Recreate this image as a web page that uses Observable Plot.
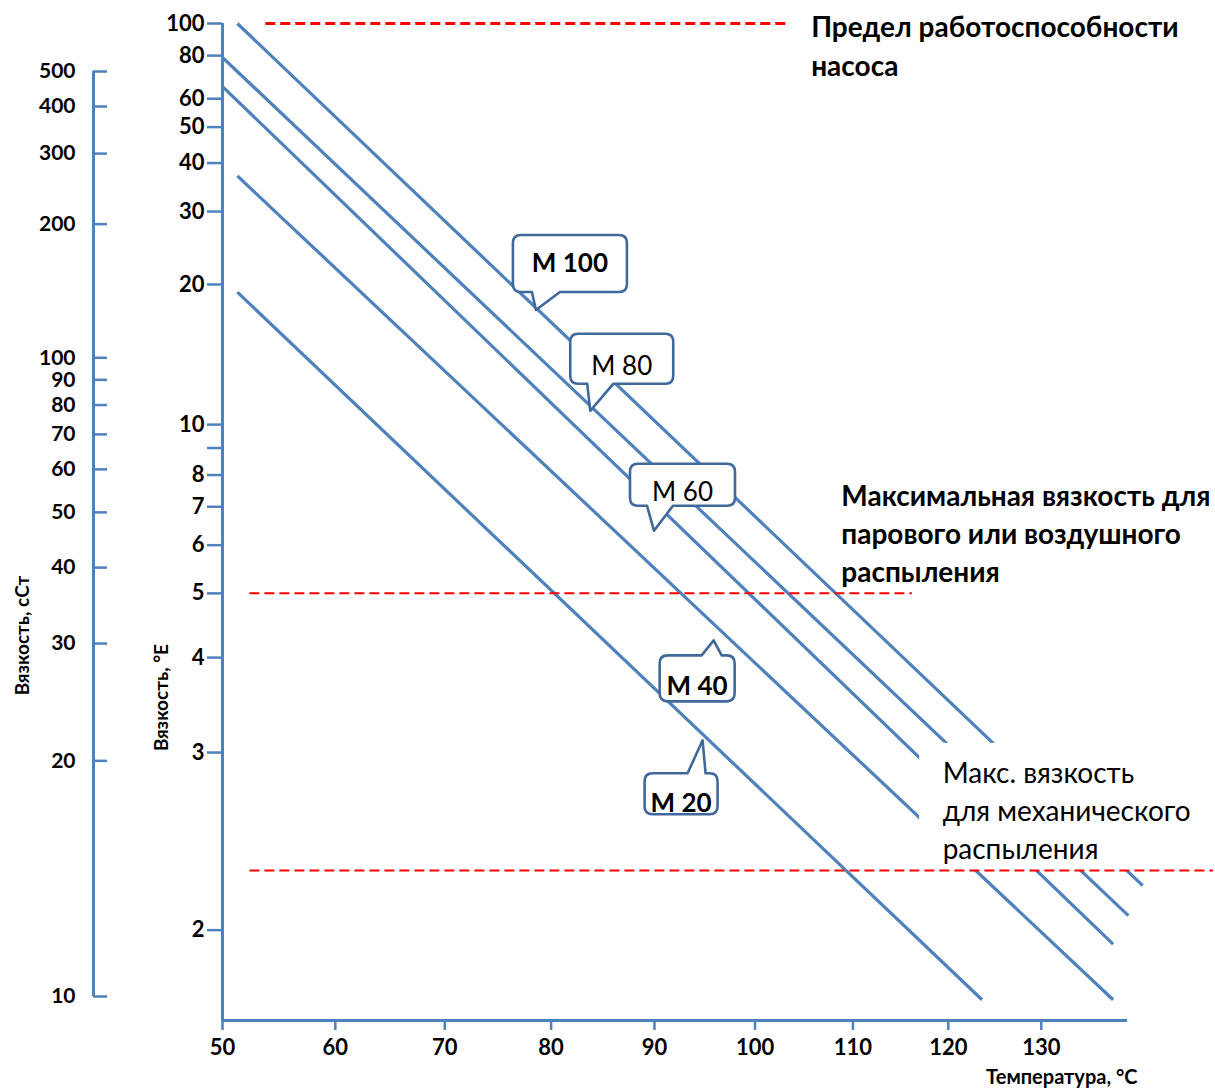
<!DOCTYPE html>
<html>
<head>
<meta charset="utf-8">
<script src="https://cdn.jsdelivr.net/npm/d3@7"></script>
<script src="https://cdn.jsdelivr.net/npm/@observablehq/plot@0.6"></script>
<style>
  html, body { margin: 0; padding: 0; background: #fff; }
  #chart { position: relative; width: 1215px; height: 1088px; overflow: hidden; }
  #chart svg { position: absolute; left: 0; top: 0; }
</style>
</head>
<body>
<div id="chart"></div>
<script>
// ---------------- DATA ----------------
// Fuel-oil grades: straight lines on a Walther chart, given by start/end (°C, °E)
const grades     = ["M 100", "M 80", "M 60", "M 40", "M 20"];
const startTemp  = [51.3, 50, 50, 51.3, 51.3];
const startVisc  = [100, 79, 65, 37, 19.2];
const endTemp    = [141.2, 139.6, 137.9, 137.9, 123.6];
const endVisc    = [2.18, 2.055, 1.95, 1.78, 1.78];

// Limit lines (°E) and their extent in °C
const limitVisc  = [100, 5, 2.25];
const limitFrom  = [53.8, 52.4, 52.4];
const limitTo    = [103.6, 116.2, 149.2];

// Limit notes
const noteTexts  = [
  "Предел работоспособности\nнасоса",
  "Максимальная вязкость для\nпарового или воздушного\nраспыления",
  "Макс. вязкость\nдля механического\nраспыления"
];
const noteTemp   = [105.7, 108.8, 119.4];
const noteVisc   = [100, 7.66, 2.913];

// Callouts: label and the point (°C, °E) the pointer touches
const calloutLabels = ["M 100", "M 80", "M 60", "M 40", "M 20"];
const calloutTemp   = [78.6, 83.8, 90.0, 95.9, 94.8];
const calloutVisc   = [17.44, 10.63, 6.34, 4.23, 3.10];

// Ticks
const tempTicks        = [50, 60, 70, 80, 90, 100, 110, 120, 130];
const englerTicks      = [2, 3, 4, 5, 6, 7, 8, 9, 10, 20, 30, 40, 50, 60, 80, 100];
const englerTickLabels = ["2", "3", "4", "5", "6", "7", "8", "", "10", "20", "30", "40", "50", "60", "80", "100"];
const cstTicks         = [10, 20, 30, 40, 50, 60, 70, 80, 90, 100, 200, 300, 400, 500];

// ---------------- LAYOUT / STYLE ----------------
const FONT = "Lato, 'Open Sans', 'Noto Sans', sans-serif";
const BLUE = "#4f81bd";
const BUBBLE = "#41689b";
const calloutLayout = [
  {dx: 34,    dy: -46.5, w: 114, h: 57, base: [-4, 24],  side: "bottom", weight: "bold",   size: 26, textDy: -1},
  {dx: 31.5,  dy: -52,   w: 103, h: 50, base: [-3, 23],  side: "bottom", weight: "normal", size: 26, textDy: 7},
  {dx: 28.5,  dy: -46,   w: 105, h: 42, base: [-7, 19],  side: "bottom", weight: "normal", size: 26, textDy: 7},
  {dx: -16.5, dy: 38,    w: 75,  h: 46, base: [-12, 8],  side: "top",    weight: "bold",   size: 26, textDy: 8},
  {dx: -21.5, dy: 53.5,  w: 73,  h: 41, base: [-15, 3],  side: "top",    weight: "bold",   size: 26, textDy: 9.5}
];
const noteLayout = [
  {dy: -14,  weight: "bold",   lineHeight: 1.39},
  {dy: -6,   weight: "bold",   lineHeight: 1.36},
  {dy: -7,   weight: "normal", lineHeight: 1.35}
];

// ---------------- TRANSFORMS (Walther chart) ----------------
const tx = t => Math.log10(t + 273.15);              // temperature axis: log of absolute temperature
const cstOfEngler = e => 7.31 * e - 6.31 / e;        // Ubbelohde conversion °E -> cSt
const walther = v => Math.log10(Math.log10(v + 0.7));
const gE = e => walther(cstOfEngler(e));

const lineData = grades.flatMap((g, i) => [
  {grade: g, T: startTemp[i], E: startVisc[i]},
  {grade: g, T: endTemp[i],   E: endVisc[i]}
]);

const xDomain = [tx(50), tx(139.5)];
const yDomain = [gE(1.726), gE(100)];

const xLabel = new Map(tempTicks.map(t => [tx(t), String(t)]));
const yLabel = new Map(englerTicks.map((e, i) => [gE(e), englerTickLabels[i]]));

function bubblePath(x0, y0, x1, y1, r, side, bx0, bx1, tipX, tipY) {
  if (side === "bottom") {
    return `M${x0 + r},${y0}H${x1 - r}Q${x1},${y0} ${x1},${y0 + r}V${y1 - r}Q${x1},${y1} ${x1 - r},${y1}` +
      `H${bx1}L${tipX},${tipY}L${bx0},${y1}H${x0 + r}Q${x0},${y1} ${x0},${y1 - r}V${y0 + r}Q${x0},${y0} ${x0 + r},${y0}Z`;
  }
  return `M${x0 + r},${y0}H${bx0}L${tipX},${tipY}L${bx1},${y0}H${x1 - r}Q${x1},${y0} ${x1},${y0 + r}V${y1 - r}Q${x1},${y1} ${x1 - r},${y1}` +
    `H${x0 + r}Q${x0},${y1} ${x0},${y1 - r}V${y0 + r}Q${x0},${y0} ${x0 + r},${y0}Z`;
}

function calloutMark(index, scales) {
  const g = d3.create("svg:g");
  calloutLabels.forEach((lab, i) => {
    const L = calloutLayout[i];
    const px = scales.x(tx(calloutTemp[i]));
    const py = scales.y(gE(calloutVisc[i]));
    const cx = px + L.dx, cy = py + L.dy;
    const x0 = cx - L.w / 2, x1 = cx + L.w / 2, y0 = cy - L.h / 2, y1 = cy + L.h / 2;
    g.append("path")
      .attr("d", bubblePath(x0, y0, x1, y1, 8, L.side, px + L.base[0], px + L.base[1], px, py))
      .attr("fill", "white").attr("stroke", BUBBLE).attr("stroke-width", 2.6).attr("stroke-linejoin", "round");
    g.append("text")
      .attr("x", cx).attr("y", cy + L.textDy)
      .attr("text-anchor", "middle").attr("dy", "0.35em")
      .attr("font-family", FONT).attr("font-size", L.size).attr("font-weight", L.weight)
      .attr("fill", "black")
      .text(lab);
  });
  return g.node();
}

const mainPlot = Plot.plot({
  width: 1215, height: 1088,
  marginLeft: 222, marginRight: 88, marginTop: 23, marginBottom: 68,
  x: {domain: xDomain},
  y: {domain: yDomain},
  style: {fontFamily: FONT, background: "transparent", overflow: "visible", color: "black"},
  marks: [
    // grade lines
    Plot.line(lineData, {x: d => tx(d.T), y: d => gE(d.E), z: "grade", stroke: BLUE, strokeWidth: 3.2, strokeLinecap: "butt"}),
    // white background of the mechanical-atomisation note
    Plot.rect([2], {
      x1: i => tx(noteTemp[i]), x2: i => tx(noteTemp[i]),
      y1: i => gE(noteVisc[i]), y2: i => gE(limitVisc[i]),
      insetLeft: -23, insetRight: -320, insetTop: -20, fill: "white"
    }),
    // axes
    Plot.ruleY([yDomain[0]], {x1: () => xDomain[0], x2: () => xDomain[1], stroke: BLUE, strokeWidth: 3}),
    Plot.ruleX([xDomain[0]], {y1: () => yDomain[0], y2: () => gE(100), stroke: BLUE, strokeWidth: 3}),
    Plot.axisX({
      ticks: tempTicks.map(tx), tickFormat: d => xLabel.get(d), label: null,
      tickSize: 10, tickPadding: 9, stroke: BLUE, strokeWidth: 2.5, fill: "black",
      fontSize: 22, fontWeight: "bold", fontFamily: FONT
    }),
    Plot.axisY({
      ticks: englerTicks.map(gE), tickFormat: d => yLabel.get(d), label: null,
      tickSize: 15, tickPadding: 3, stroke: BLUE, strokeWidth: 2.5, fill: "black",
      fontSize: 22, fontWeight: "bold", fontFamily: FONT
    }),
    // limit lines
    Plot.ruleY(limitVisc, {
      y: d => gE(d), x1: (d, i) => tx(limitFrom[i]), x2: (d, i) => tx(limitTo[i]),
      stroke: "red", strokeDasharray: "10,5", strokeWidth: (d, i) => (i === 0 ? 3 : 2)
    }),
    // notes
    ...noteTexts.map((t, i) => Plot.text([t], {
      x: () => tx(noteTemp[i]), y: () => gE(noteVisc[i]),
      textAnchor: "start", lineAnchor: "top", dy: noteLayout[i].dy,
      lineHeight: noteLayout[i].lineHeight, fontSize: 28, fontWeight: noteLayout[i].weight,
      fill: "black", fontFamily: FONT
    })),
    // callouts
    calloutMark,
    // axis titles
    Plot.text(["Температура, °С"], {frameAnchor: "bottom-right", textAnchor: "end", lineAnchor: "middle",
      dx: 10, dy: 57, fontSize: 20, fontWeight: "bold", fill: "black", fontFamily: FONT}),
    Plot.text(["Вязкость, °Е"], {frameAnchor: "left", textAnchor: "middle", lineAnchor: "middle",
      rotate: -90, dx: -61, dy: 175.5, fontSize: 19, fontWeight: "bold", fill: "black", fontFamily: FONT})
  ]
});

const gC = v => walther(v);
const cstPlot = Plot.plot({
  width: 140, height: 1088,
  marginLeft: 93, marginRight: 33, marginTop: 71, marginBottom: 92,
  x: {domain: [0, 1], axis: null},
  y: {domain: [gC(10), gC(500)], axis: null},
  style: {fontFamily: FONT, background: "transparent", overflow: "visible", color: "black"},
  marks: [
    Plot.ruleX([0], {y1: () => gC(10), y2: () => gC(500), stroke: BLUE, strokeWidth: 3}),
    Plot.ruleY(cstTicks, {y: d => gC(d), x1: 0, x2: 1, stroke: BLUE, strokeWidth: 2.5}),
    Plot.text(cstTicks, {x: 0, y: d => gC(d), text: d => String(d), textAnchor: "end", dx: -18,
      fontSize: 21, fontWeight: "bold", fill: "black", fontFamily: FONT}),
    Plot.text(["Вязкость, сСт"], {frameAnchor: "left", textAnchor: "middle", lineAnchor: "middle",
      rotate: -90, dx: -71, dy: 101.5, fontSize: 19, fontWeight: "bold", fill: "black", fontFamily: FONT})
  ]
});

const chart = document.getElementById("chart");
chart.appendChild(mainPlot);
chart.appendChild(cstPlot);
</script>
</body>
</html>
